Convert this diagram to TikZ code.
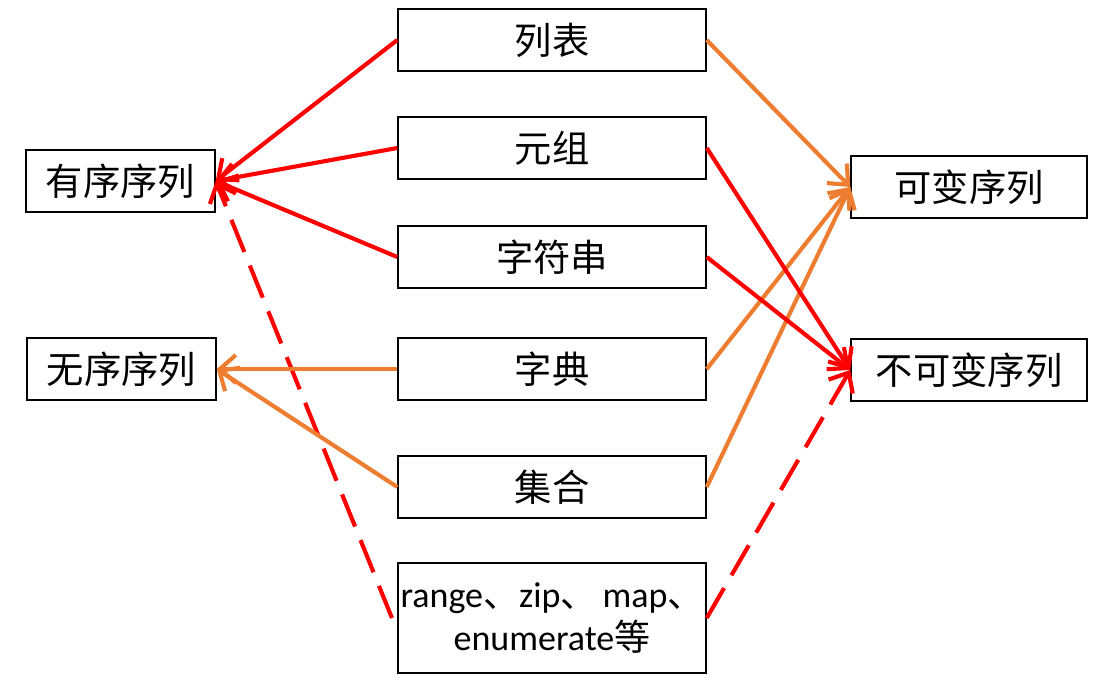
\documentclass[tikz,border=0pt]{standalone}
\usepackage{fontspec}
\setmainfont{Carlito}
\newfontfamily\cjk{Noto Sans CJK SC}
\usetikzlibrary{arrows.meta}
\definecolor{myred}{HTML}{FF0000}
\definecolor{myorange}{HTML}{ED7D31}
\tikzset{
  box/.style={draw=black, line width=1.1pt, rectangle, inner sep=0pt, align=center, font=\fontsize{28}{33}\selectfont\cjk},
  redarr/.style={draw=myred, line width=3.1pt, -{Straight Barb[length=12pt,width=21pt,line width=3.1pt]}},
  orarr/.style={draw=myorange, line width=3.1pt, -{Straight Barb[length=12pt,width=21pt,line width=3.1pt]}},
  dashline/.style={dash pattern=on 26pt off 11pt}
}
\begin{document}
\begin{tikzpicture}[x=0.75pt,y=-0.75pt]
\useasboundingbox (0,0) rectangle (1108,685);
% middle boxes
\node[box, minimum width=231pt, minimum height=46.5pt] (lb) at (552,40) {列表};
\node[box, minimum width=231pt, minimum height=46.5pt] (yz) at (552,148) {元组};
\node[box, minimum width=231pt, minimum height=46.5pt] (zfc) at (552,257) {字符串};
\node[box, minimum width=231pt, minimum height=46.5pt] (zd) at (552,369) {字典};
\node[box, minimum width=231pt, minimum height=46.5pt] (jh) at (552,487) {集合};
\node[box, text width=231pt, minimum height=82.5pt, font=\fontsize{27}{32}\selectfont] (rg) at (552,618)
  {range{\cjk 、}zip{\cjk 、}\,map{\cjk 、}\\enumerate{\cjk 等}};
% left
\node[box, minimum width=141.75pt, minimum height=46.5pt] (yx) at (120.5,181) {有序序列};
\node[box, minimum width=141.75pt, minimum height=46.5pt] (wx) at (121.5,369) {无序序列};
% right
\node[box, minimum width=177pt, minimum height=46.5pt] (kb) at (969,187) {可变序列};
\node[box, minimum width=177pt, minimum height=46.5pt] (bkb) at (969,370) {不可变序列};
% arrows to ordered
\draw[redarr] (lb.west) -- (yx.east);
\draw[redarr] (yz.west) -- (yx.east);
\draw[redarr] (zfc.west) -- (yx.east);
\draw[redarr, dashline] ([xshift=-4pt]rg.west) -- (yx.east);
% unordered
\draw[orarr] (zd.west) -- (wx.east);
\draw[orarr] (jh.west) -- (wx.east);
% mutable
\draw[orarr] (lb.east) -- (kb.west);
\draw[orarr] (zd.east) -- (kb.west);
\draw[orarr] (jh.east) -- (kb.west);
% immutable
\draw[redarr] (yz.east) -- (bkb.west);
\draw[redarr] (zfc.east) -- (bkb.west);
\draw[redarr, dashline] (rg.east) -- (bkb.west);
\end{tikzpicture}
\end{document}
